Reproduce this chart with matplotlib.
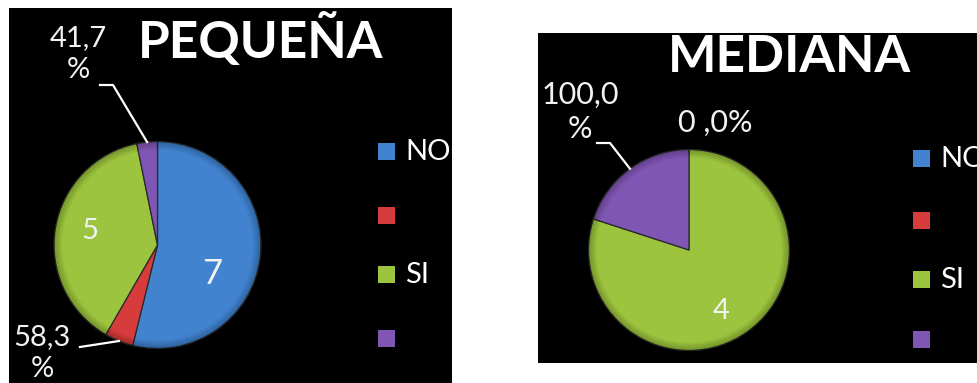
import numpy as np
import matplotlib
matplotlib.use("Agg")
import matplotlib.pyplot as plt
from matplotlib.patches import Wedge, Rectangle

plt.rcParams['font.family'] = ['Lato', 'DejaVu Sans']

# ---- data ----
categorias = ["NO", "", "SI", ""]
colores = ["#4283d0", "#d63c3c", "#9cc43e", "#7f56b4"]

titulo_pequena = "PEQUEÑA"
valores_pequena = [7, 0.583, 5, 0.417]
etiquetas_pequena = ["7", "58,3\n%", "5", "41,7\n%"]

titulo_mediana = "MEDIANA"
valores_mediana = [0, 0, 4, 1.0]
etiquetas_mediana = ["0 ,0%", "100,0\n%", "4"]

# ---- canvas in pixel units ----
W, H = 977, 383
fig = plt.figure(figsize=(W / 100, H / 100), dpi=100)
fig.patch.set_facecolor("white")


def Y(y):
    return H - y


def panel(x0, x1, ytop, ybot):
    ax = fig.add_axes([x0 / W, (H - ybot) / H, (x1 - x0) / W, (ybot - ytop) / H])
    ax.set_facecolor("black")
    for s in ax.spines.values():
        s.set_visible(False)
    return ax, (x0, x1, Y(ybot), Y(ytop))


def finish(ax, lims):
    ax.set_aspect("auto")
    ax.set_xlim(lims[0], lims[1])
    ax.set_ylim(lims[2], lims[3])
    ax.set_xticks([])
    ax.set_yticks([])


def draw_pie(ax, vals, cx, cy, r):
    ax.pie(vals, colors=colores, startangle=90, counterclock=False,
           center=(cx, Y(cy)), radius=r, frame=True,
           wedgeprops=dict(edgecolor="#2a2a2a", linewidth=0.9))
    # bevelled rim
    n = 10
    for i in range(n):
        inner = r * (0.92 + 0.08 * i / n)
        ax.add_patch(Wedge((cx, Y(cy)), r, 0, 360, width=r - inner,
                           facecolor="black", edgecolor="none", alpha=0.025))


def rim_point(vals, idx, cx, cy, r):
    tot = float(sum(vals))
    mid = (sum(vals[:idx]) + vals[idx] / 2.0) / tot
    ang = np.deg2rad(90 - 360 * mid)
    return cx + r * np.cos(ang), Y(cy) + r * np.sin(ang)


def legend(ax, x, tops, xtext):
    for cat, col, top in zip(categorias, colores, tops):
        ax.add_patch(Rectangle((x, Y(top + 17)), 17, 17, facecolor=col,
                               edgecolor="none"))
        ax.text(xtext, Y(top + 9), cat, color="white", fontsize=21,
                va="center", ha="left", clip_on=True)


txt = dict(color="#f2f2f2", ha="center", va="center")

# ---- PEQUEÑA ----
ax1, lim1 = panel(9, 452, 8, 383)
cx1, cy1, r1 = 157.5, 245, 103.5
draw_pie(ax1, valores_pequena, cx1, cy1, r1)
ax1.text(261, Y(58), titulo_pequena, color="white", fontsize=37,
         fontweight="bold", ha="center", va="baseline")
ax1.text(212, Y(274), etiquetas_pequena[0], fontsize=25, **txt)
ax1.text(90, Y(231), etiquetas_pequena[2], fontsize=21, **txt)
ax1.text(78, Y(54), etiquetas_pequena[3], fontsize=21, linespacing=1.3, **txt)
ax1.text(42, Y(353), etiquetas_pequena[1], fontsize=21, linespacing=1.3, **txt)
px, py = rim_point(valores_pequena, 3, cx1, cy1, r1)
ax1.plot([100, 113, px], [Y(85), Y(85), py], color="white", lw=1.6)
px, py = rim_point(valores_pequena, 1, cx1, cy1, r1)
ax1.plot([80, px], [Y(347), py], color="white", lw=1.6)
legend(ax1, 378, [143, 207, 266, 330], 405)
finish(ax1, lim1)

# ---- MEDIANA ----
ax2, lim2 = panel(538, 977, 33, 363)
cx2, cy2, r2 = 689, 250, 100.5
draw_pie(ax2, valores_mediana, cx2, cy2, r2)
ax2.text(789, Y(72), titulo_mediana, color="white", fontsize=37,
         fontweight="bold", ha="center", va="baseline", clip_on=True)
ax2.text(715, Y(123), etiquetas_mediana[0], fontsize=22, **txt)
ax2.text(580, Y(112), etiquetas_mediana[1], fontsize=22, linespacing=1.25, **txt)
ax2.text(721, Y(311), etiquetas_mediana[2], fontsize=21, **txt)
px, py = rim_point(valores_mediana, 3, cx2, cy2, r2)
ax2.plot([597, 610, px], [Y(143), Y(143), py], color="white", lw=1.6)
legend(ax2, 913, [150, 212, 271, 331], 940)
finish(ax2, lim2)

fig.savefig("out.png", dpi=100, facecolor="white")
